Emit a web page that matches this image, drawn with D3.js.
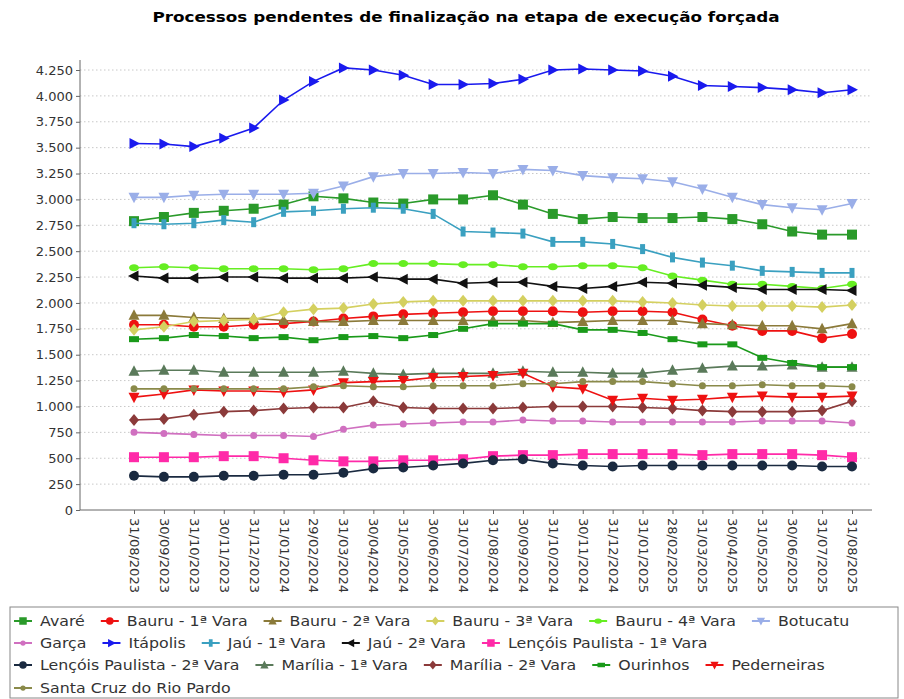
<!DOCTYPE html><html><head><meta charset="utf-8"><script src="https://cdn.jsdelivr.net/npm/d3@7/dist/d3.min.js"></script>
<style>body{margin:0;background:#fff}svg{font-family:"DejaVu Sans",sans-serif}</style></head><body><svg id="c" width="904" height="699"></svg><script>
const dates=["31/08/2023","30/09/2023","31/10/2023","30/11/2023","31/12/2023","31/01/2024","29/02/2024","31/03/2024","30/04/2024","31/05/2024","30/06/2024","31/07/2024","31/08/2024","30/09/2024","31/10/2024","30/11/2024","31/12/2024","31/01/2025","28/02/2025","31/03/2025","30/04/2025","31/05/2025","30/06/2025","31/07/2025","31/08/2025"];
const yTicks=[0,250,500,750,1000,1250,1500,1750,2000,2250,2500,2750,3000,3250,3500,3750,4000,4250];
const avare=[2790,2830,2870,2890,2910,2950,3030,3010,2970,2960,3000,3000,3040,2950,2860,2810,2830,2820,2820,2830,2810,2760,2690,2660,2660];
const bauru1=[1790,1790,1770,1770,1790,1800,1820,1850,1870,1890,1900,1910,1920,1920,1920,1910,1920,1920,1910,1840,1780,1730,1730,1660,1700];
const bauru2=[1880,1880,1860,1850,1850,1830,1820,1820,1830,1830,1830,1830,1830,1830,1810,1820,1830,1830,1830,1800,1790,1780,1780,1750,1800];
const bauru3=[1740,1770,1820,1830,1840,1910,1940,1950,1990,2010,2020,2020,2020,2020,2020,2020,2020,2010,2000,1980,1970,1970,1970,1960,1980];
const bauru4=[2340,2350,2340,2330,2330,2330,2320,2330,2380,2380,2380,2370,2370,2350,2350,2360,2360,2340,2260,2220,2180,2180,2160,2140,2180];
const botucatu=[3020,3020,3040,3050,3050,3050,3060,3130,3220,3250,3250,3260,3250,3290,3280,3230,3210,3200,3170,3100,3020,2950,2920,2900,2960];
const garca=[750,740,730,720,720,720,710,780,820,830,840,850,850,870,860,860,850,850,850,850,850,860,860,860,840];
const itapolis=[3540,3535,3510,3590,3690,3960,4140,4270,4250,4200,4110,4110,4120,4160,4250,4260,4250,4240,4190,4100,4090,4080,4060,4030,4060];
const jau1=[2770,2760,2770,2800,2780,2880,2890,2910,2920,2910,2860,2690,2680,2670,2590,2590,2570,2520,2440,2390,2360,2310,2300,2290,2290];
const jau2=[2260,2240,2240,2250,2250,2240,2240,2240,2250,2230,2230,2190,2200,2200,2160,2140,2160,2200,2190,2170,2150,2130,2130,2130,2120];
const lencois1=[510,510,510,520,520,500,480,470,470,480,480,490,520,530,530,540,540,540,540,530,540,540,540,530,510];
const lencois2=[330,320,320,330,330,340,340,360,400,410,430,450,480,490,450,430,420,430,430,430,430,430,430,420,420];
const marilia1=[1340,1350,1350,1330,1330,1330,1330,1340,1320,1310,1320,1320,1320,1340,1330,1330,1320,1320,1350,1370,1390,1390,1400,1380,1380];
const marilia2=[870,880,920,950,960,980,990,990,1050,990,980,980,980,990,1000,1000,1000,990,980,960,950,950,950,960,1050];
const ourinhos=[1650,1660,1690,1680,1660,1670,1640,1670,1680,1660,1690,1750,1800,1800,1800,1740,1740,1710,1650,1600,1600,1470,1420,1380,1380];
const pederneiras=[1090,1120,1160,1150,1150,1140,1160,1230,1240,1250,1280,1290,1300,1320,1190,1170,1060,1080,1060,1070,1090,1100,1090,1090,1100];
const santaCruz=[1170,1170,1170,1170,1170,1170,1190,1200,1190,1190,1200,1200,1200,1220,1220,1240,1240,1240,1220,1200,1200,1210,1200,1200,1190];
const names=["Avaré","Bauru - 1ª Vara","Bauru - 2ª Vara","Bauru - 3ª Vara","Bauru - 4ª Vara","Botucatu","Garça","Itápolis","Jaú - 1ª Vara","Jaú - 2ª Vara","Lençóis Paulista - 1ª Vara","Lençóis Paulista - 2ª Vara","Marília - 1ª Vara","Marília - 2ª Vara","Ourinhos","Pederneiras","Santa Cruz do Rio Pardo"];
const values=[avare,bauru1,bauru2,bauru3,bauru4,botucatu,garca,itapolis,jau1,jau2,lencois1,lencois2,marilia1,marilia2,ourinhos,pederneiras,santaCruz];
const colors=["#2a9a2a","#ee1111","#8b7a3a","#d4d060","#66ee22","#9aaee8","#d070c0","#1a1aee","#3aa0c0","#111111","#ff2aa8","#1a2a40","#5a7a5a","#8b3a3a","#1a9a1a","#ee1111","#8a8a4a"];
const shapes=["sq","ci","tu","di","el","td","sc","tr","rv","tl","sq","ci","tu","di","rh","td","sc"];
const rowStarts=[0,6,11,16];

const svg=d3.select("#c");
const x=d3.scalePoint().domain(dates).range([134,852]);
const y=d3.scaleLinear().domain([0,4250]).range([510,70]);

svg.append("text").attr("transform","translate(466,22) scale(1.2,1)").attr("text-anchor","middle").attr("font-weight","bold").attr("font-size",14).text("Processos pendentes de finalização na etapa de execução forçada");

svg.append("g").selectAll("line").data(yTicks.filter(d=>d>0)).join("line")
 .attr("x1",80).attr("x2",872).attr("y1",d=>y(d)).attr("y2",d=>y(d))
 .attr("stroke","#c8c8c8").attr("stroke-dasharray","1.5,2.5");

const ya=svg.append("g").attr("transform","translate(80,0)").call(d3.axisLeft(y).tickValues(yTicks).tickSize(4).tickFormat(d=>d3.format(",")(d).replace(/,/g,".")));
ya.select(".domain").attr("stroke","#666").attr("d","M0,60V510");
ya.selectAll("text").attr("font-size",13).attr("fill","#333").attr("font-family","DejaVu Sans");
ya.selectAll("line").attr("stroke","#666");
const xa=svg.append("g").attr("transform","translate(0,510)").call(d3.axisBottom(x).tickSize(4));
xa.select(".domain").attr("stroke","#666").attr("d","M80,0H872");
xa.selectAll("line").attr("stroke","#666");
xa.selectAll("text").attr("font-size",13).attr("fill","#333").attr("font-family","DejaVu Sans")
 .attr("transform","rotate(90)").attr("text-anchor","start").attr("x",8).attr("y",0).attr("dy","0.35em");

function sym(g,s,c,sz){
 sz=sz||1;
 let p;
 switch(s){
  case "sq":p=g.append("rect").attr("x",-5*sz).attr("y",-5*sz).attr("width",10*sz).attr("height",10*sz);break;
  case "ci":p=g.append("circle").attr("r",5*sz);break;
  case "sc":p=g.append("circle").attr("r",3.5*sz);break;
  case "el":p=g.append("ellipse").attr("rx",5*sz).attr("ry",3.5*sz);break;
  case "rv":p=g.append("rect").attr("x",-2.5*sz).attr("y",-5*sz).attr("width",5*sz).attr("height",10*sz);break;
  case "rh":p=g.append("rect").attr("x",-5*sz).attr("y",-3*sz).attr("width",10*sz).attr("height",6*sz);break;
  case "tu":p=g.append("path").attr("d",`M0,${-6*sz}L${5.5*sz},${4.5*sz}L${-5.5*sz},${4.5*sz}Z`);break;
  case "td":p=g.append("path").attr("d",`M0,${6*sz}L${5.5*sz},${-4.5*sz}L${-5.5*sz},${-4.5*sz}Z`);break;
  case "tr":p=g.append("path").attr("d",`M${6*sz},0L${-4.5*sz},${5.5*sz}L${-4.5*sz},${-5.5*sz}Z`);break;
  case "tl":p=g.append("path").attr("d",`M${-6*sz},0L${4.5*sz},${5.5*sz}L${4.5*sz},${-5.5*sz}Z`);break;
  case "di":p=g.append("path").attr("d",`M0,${-6*sz}L${5*sz},0L0,${6*sz}L${-5*sz},0Z`);break;
 }
 p.attr("fill",c);
}
const line=d3.line().x((d,i)=>x(dates[i])).y(d=>y(d));
values.forEach((v,k)=>{
 const g=svg.append("g");
 g.append("path").attr("d",line(v)).attr("fill","none").attr("stroke",colors[k]).attr("stroke-width",1.6);
 v.forEach((d,i)=>{const m=g.append("g").attr("transform",`translate(${x(dates[i])},${y(d)})`);sym(m,shapes[k],colors[k]);});
});

svg.append("rect").attr("x",10).attr("y",607).attr("width",888).attr("height",91).attr("fill","#fff").attr("stroke","#888");
const rowsY=[621,643,665,688];
const sx=1.13;
let row=-1,cx=0;
names.forEach((n,k)=>{
 if(rowStarts.includes(k)){row++;cx=23;}
 const g=svg.append("g").attr("transform",`translate(${cx},${rowsY[row]})`);
 g.append("line").attr("x1",-9).attr("x2",9).attr("stroke",colors[k]).attr("stroke-width",2);
 sym(g.append("g"),shapes[k],colors[k],0.75);
 const t=g.append("text").attr("transform",`translate(17,0) scale(${sx},1)`).attr("dy","0.35em").attr("font-size",14).attr("fill","#333").text(n);
 cx+=17+t.node().getComputedTextLength()*sx+25;
});
</script></body></html>
